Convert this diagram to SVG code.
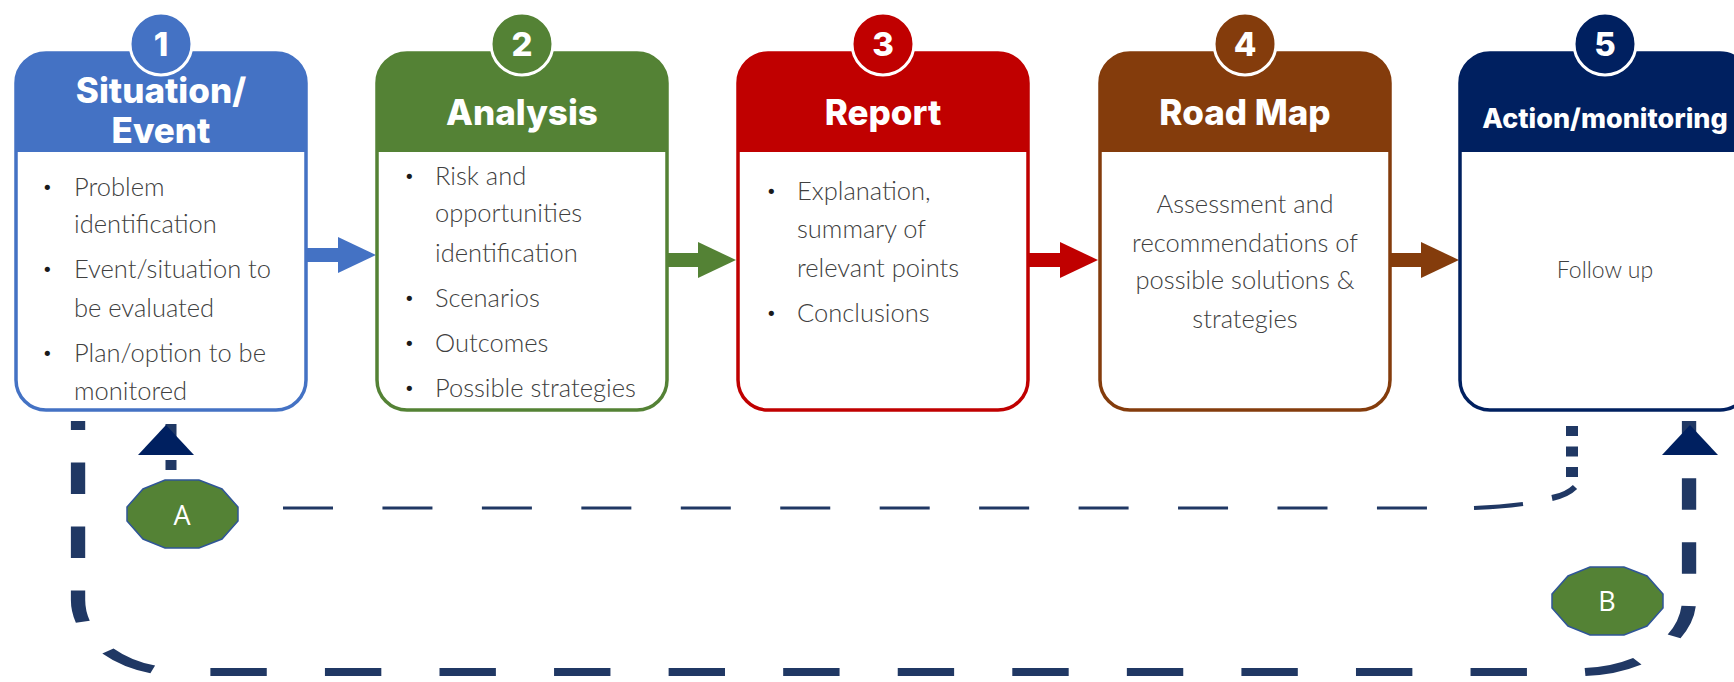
<svg xmlns="http://www.w3.org/2000/svg" xmlns:xlink="http://www.w3.org/1999/xlink" width="1734" height="682" viewBox="0 0 1734 682">
  <style>
    .card { fill: #ffffff; stroke-width: 3.5; }
    .badge { stroke: #ffffff; stroke-width: 3; }
    .num { font-family: Inter, "Open Sans", "DejaVu Sans", sans-serif; font-weight: 800; font-size: 33px; fill: #ffffff; text-anchor: middle; }
    .title { font-family: Inter, "Open Sans", "DejaVu Sans", sans-serif; font-weight: 800; font-size: 35px; fill: #ffffff; text-anchor: middle; }
    .title-sm { font-size: 27px; }
    .body { font-family: Lato, "Open Sans", "DejaVu Sans", sans-serif; font-weight: 300; font-size: 25.5px; fill: #404040; }
    .centre { text-anchor: middle; }
    .dot { font-family: "DejaVu Sans", sans-serif; font-size: 18px; fill: #1a1a1a; }
    .flow { stroke: none; }
    .loop { fill: none; stroke: #203864; stroke-width: 8; stroke-dasharray: 31.5 32.5; stroke-dashoffset: 22.5; }
    .thin { fill: none; stroke: #203864; stroke-width: 3; }
    .tag { fill: #548235; stroke: #2F5597; stroke-width: 1.5; }
    .tag-text { font-family: "Open Sans", "Noto Sans", sans-serif; font-size: 27px; fill: #ffffff; text-anchor: middle; }
    .head { fill: #002060; }
  </style>
  <defs>
    <!-- coloured header band of a step card, local coordinates -->
    <path id="hdr" d="M0,152 V83 A30,30 0 0 1 30,53 H260 A30,30 0 0 1 290,83 V152 Z"/>
  </defs>

  <!-- feedback loops and step arrows -->
  <g id="connectors">
    <!-- step arrows between cards -->
    <g class="flow">
      <rect x="306" y="248" width="34" height="14" fill="#4472C4"/>
      <polygon points="338,237 376,255 338,273" fill="#4472C4"/>
      <rect x="667" y="253" width="33" height="14" fill="#548235"/>
      <polygon points="698,242 736,260 698,278" fill="#548235"/>
      <rect x="1028" y="253" width="34" height="14" fill="#C00000"/>
      <polygon points="1060,242 1098,260 1060,278" fill="#C00000"/>
      <rect x="1390" y="253" width="33" height="14" fill="#843C0C"/>
      <polygon points="1421,242 1459,260 1421,278" fill="#843C0C"/>
    </g>

    <!-- outer loop B: drawn in a horizontally stretched frame -->
    <g transform="scale(1.79,1)">
      <path class="loop" d="M43.6,421 V600 A57,72 0 0 0 100.6,672 H882.7 A61,72 0 0 0 943.6,600 V421"/>
    </g>
    <polygon class="head" points="1662,455 1690,425 1718,455"/>

    <!-- inner loop A -->
    <path d="M1572,426 V479" fill="none" stroke="#203864" stroke-width="12" stroke-dasharray="10 10.5"/>
    <path d="M1575,487 Q1567,495 1552,498" fill="none" stroke="#203864" stroke-width="6"/>
    <path d="M1474,508 Q1500,507 1523,504" fill="none" stroke="#203864" stroke-width="4"/>
    <path class="thin" d="M283,508 H1427" stroke-dasharray="50 49.45"/>
    <path d="M171,470 V424" fill="none" stroke="#203864" stroke-width="11" stroke-dasharray="10 12 40"/>
    <polygon class="head" points="138,455 166,425 194,455"/>
  </g>

  <!-- step 1 -->
  <g id="step1" transform="translate(16,0)">
    <rect class="card" x="0" y="53" width="290" height="357" rx="30" stroke="#4472C4"/>
    <use xlink:href="#hdr" fill="#4472C4"/>
    <circle class="badge" cx="145" cy="44" r="31" fill="#4472C4"/>
    <text class="num" x="145" y="56">1</text>
    <text class="title" x="145" y="103">Situation/</text>
    <text class="title" x="145" y="143">Event</text>
    <text class="dot" x="26" y="194">•</text>
    <text class="body" x="58" y="196">Problem</text>
    <text class="body" x="58" y="233">identification</text>
    <text class="dot" x="26" y="276">•</text>
    <text class="body" x="58" y="278">Event/situation to</text>
    <text class="body" x="58" y="317">be evaluated</text>
    <text class="dot" x="26" y="360">•</text>
    <text class="body" x="58" y="362">Plan/option to be</text>
    <text class="body" x="58" y="400">monitored</text>
  </g>

  <!-- step 2 -->
  <g id="step2" transform="translate(377,0)">
    <rect class="card" x="0" y="53" width="290" height="357" rx="30" stroke="#548235"/>
    <use xlink:href="#hdr" fill="#548235"/>
    <circle class="badge" cx="145" cy="44" r="31" fill="#548235"/>
    <text class="num" x="145" y="56">2</text>
    <text class="title" x="145" y="125">Analysis</text>
    <text class="dot" x="27" y="183">•</text>
    <text class="body" x="58" y="185">Risk and</text>
    <text class="body" x="58" y="222">opportunities</text>
    <text class="body" x="58" y="262">identification</text>
    <text class="dot" x="27" y="305">•</text>
    <text class="body" x="58" y="307">Scenarios</text>
    <text class="dot" x="27" y="350">•</text>
    <text class="body" x="58" y="352">Outcomes</text>
    <text class="dot" x="27" y="395">•</text>
    <text class="body" x="58" y="397">Possible strategies</text>
  </g>

  <!-- step 3 -->
  <g id="step3" transform="translate(738,0)">
    <rect class="card" x="0" y="53" width="290" height="357" rx="30" stroke="#C00000"/>
    <use xlink:href="#hdr" fill="#C00000"/>
    <circle class="badge" cx="145" cy="44" r="31" fill="#C00000"/>
    <text class="num" x="145" y="56">3</text>
    <text class="title" x="145" y="125">Report</text>
    <text class="dot" x="28" y="198">•</text>
    <text class="body" x="59" y="200">Explanation,</text>
    <text class="body" x="59" y="238">summary of</text>
    <text class="body" x="59" y="277">relevant points</text>
    <text class="dot" x="28" y="320">•</text>
    <text class="body" x="59" y="322">Conclusions</text>
  </g>

  <!-- step 4 -->
  <g id="step4" transform="translate(1100,0)">
    <rect class="card" x="0" y="53" width="290" height="357" rx="30" stroke="#843C0C"/>
    <use xlink:href="#hdr" fill="#843C0C"/>
    <circle class="badge" cx="145" cy="44" r="31" fill="#843C0C"/>
    <text class="num" x="145" y="56">4</text>
    <text class="title" x="145" y="125">Road Map</text>
    <text class="body centre" x="145" y="213">Assessment and</text>
    <text class="body centre" x="145" y="252">recommendations of</text>
    <text class="body centre" x="145" y="289">possible solutions &amp;</text>
    <text class="body centre" x="145" y="328">strategies</text>
  </g>

  <!-- step 5 -->
  <g id="step5" transform="translate(1460,0)">
    <rect class="card" x="0" y="53" width="290" height="357" rx="30" stroke="#002060"/>
    <use xlink:href="#hdr" fill="#002060"/>
    <circle class="badge" cx="145" cy="44" r="31" fill="#002060"/>
    <text class="num" x="145" y="56">5</text>
    <text class="title title-sm" x="145" y="128">Action/monitoring</text>
    <text class="body centre" x="145" y="278" style="font-size:23px">Follow up</text>
  </g>

  <!-- loop labels -->
  <g id="tagA">
    <polygon class="tag" points="127,507 143,489 165,480 199,480 222,489 238,507 238,521 222,539 199,548 165,548 143,539 127,521"/>
    <text class="tag-text" x="182" y="525">A</text>
  </g>
  <g id="tagB">
    <polygon class="tag" points="1552,594 1568,576 1590,567 1624,567 1647,576 1663,594 1663,608 1647,626 1624,635 1590,635 1568,626 1552,608"/>
    <text class="tag-text" x="1607" y="611">B</text>
  </g>
</svg>
